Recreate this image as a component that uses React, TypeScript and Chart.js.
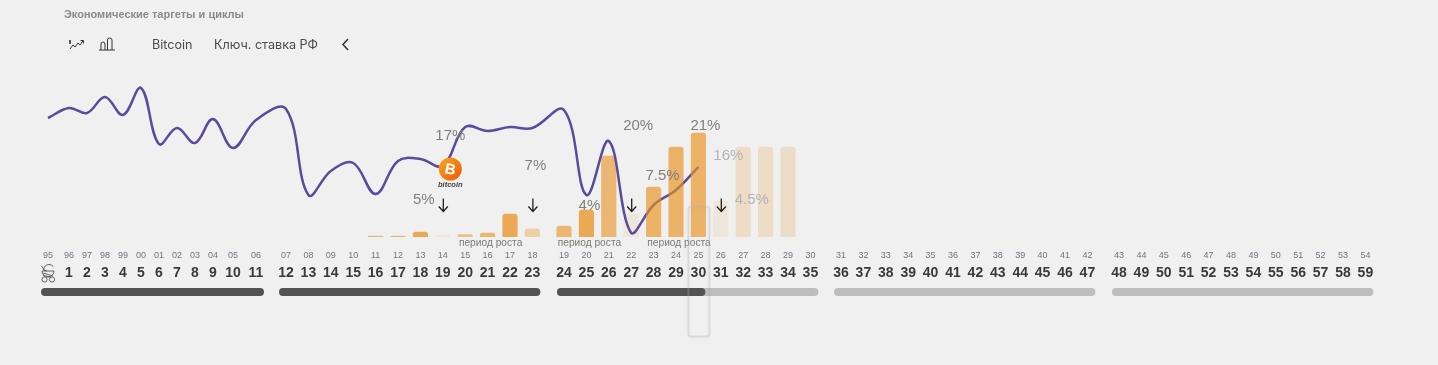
import React, { useEffect, useRef } from "react";
import { Chart, registerables } from "chart.js";

Chart.register(...registerables);

// ---------- data ----------
const yearLabels = ["95","96","97","98","99","00","01","02","03","04","05","06","07","08","09","10","11","12","13","14","15","16","17","18","19","20","21","22","23","24","25","26","27","28","29","30","31","32","33","34","35","36","37","38","39","40","41","42","43","44","45","46","47","48","49","50","51","52","53","54"];
const ageLabels = ["","1","2","3","4","5","6","7","8","9","10","11","12","13","14","15","16","17","18","19","20","21","22","23","24","25","26","27","28","29","30","31","32","33","34","35","36","37","38","39","40","41","42","43","44","45","46","47","48","49","50","51","52","53","54","55","56","57","58","59"];
// Bitcoin curve, one value per year from 95 to 25
const bitcoinLevels = [119,129,124,140,122,149,93,109,94,118,89,117,128,42,66,74,43,76,78,71,110,106,110,109,127,42,96,4,32,47,70];
// Key rate bars from year 11 to year 29
const barYears = ["11","12","13","14","15","16","17","18","19","20","21","22","23","24","25","26","27","28","29"];
const barLevels = [1,1,5,1.5,2.5,4,23,8,11,27,81,23,50,90,104,36,90,90,90];
const rateLabels = ["17%","5%","7%","4%","20%","7.5%","21%","16%","4.5%"];
const arrowYears = ["14","18","22","26"];
const periodYears = ["16","20","24"];
const periodLabel = "период роста";
const cycleNames = ["0-11","12-23","24-35","36-47","48-59"];
const currentYear = "25";

// ---------- layout and style ----------
const firstGroupSteps = [21,18,18,18,18,18,18,18,18,20,23];
const groupStarts = [48,286,564,841,1119];
const step = 22.4;
const slotPositions: number[] = [];
groupStarts.forEach((start, g) => {
  let pos = start;
  for (let i = 0; i < 12; i++) {
    slotPositions.push(pos);
    pos += g === 0 ? (firstGroupSteps[i] ?? 0) : step;
  }
});
const slotOf = (year: string) => yearLabels.indexOf(year);
const orange = (a: number) => `rgba(232,145,30,${a})`;
const barAlphas = [0.6,0.6,0.75,0.1,0.5,0.6,0.75,0.35,0.6,0.75,0.6,0.1,0.65,0.65,0.65,0.1,0.2,0.2,0.2];
const frontBars = ["23","24","25"];
const labelStyles = [
  { dx: 7.5, y: 136, c: "#808080" }, { dx: -19, y: 200, c: "#808080" }, { dx: 3, y: 166, c: "#808080" },
  { dx: 3, y: 206, c: "#808080" }, { dx: 7, y: 126, c: "#808080" }, { dx: 9, y: 176, c: "#808080" },
  { dx: 7, y: 126, c: "#808080" }, { dx: 7.5, y: 156, c: "#b4b4b4" }, { dx: 31, y: 200, c: "#b4b4b4" },
];
const labelSlots = ["14","14","18","20","22","23","25","26","26"];
const FONT = '"Liberation Sans", Arial, sans-serif';
const Y_TOP = 60, Y_BASE = 237;

function roundedPill(ctx: CanvasRenderingContext2D, x0: number, x1: number, y: number, h: number, color: string) {
  ctx.fillStyle = color;
  ctx.beginPath();
  ctx.roundRect(x0, y, x1 - x0, h, h / 2);
  ctx.fill();
}

const overlays = {
  id: "overlays",
  afterDraw(chart: any) {
    const { ctx, scales } = chart;
    const xs = scales.x;
    const px = (year: string) => xs.getPixelForValue(slotPositions[slotOf(year)]);
    ctx.save();

    // period captions
    ctx.font = `10.2px ${FONT}`;
    ctx.fillStyle = "#7a7a7a";
    ctx.textAlign = "center";
    ctx.textBaseline = "middle";
    periodYears.forEach((y) => ctx.fillText(periodLabel, px(y) + 3, 243));

    // rate labels
    ctx.font = `15px ${FONT}`;
    rateLabels.forEach((t, i) => {
      const s = labelStyles[i];
      ctx.fillStyle = s.c;
      ctx.fillText(t, px(labelSlots[i]) + s.dx, s.y);
    });

    // arrows
    ctx.strokeStyle = "#1f1f1f";
    ctx.lineWidth = 1.3;
    arrowYears.forEach((y) => {
      const x = px(y) + 0.5;
      ctx.beginPath();
      ctx.moveTo(x, 198.5);
      ctx.lineTo(x, 211);
      ctx.moveTo(x - 4.5, 206.5);
      ctx.lineTo(x, 211.5);
      ctx.lineTo(x + 4.5, 206.5);
      ctx.stroke();
    });

    // bitcoin badge
    const bx = px("14") + 7.5, by = 169;
    const grad = ctx.createLinearGradient(bx - 9, by - 9, bx + 9, by + 9);
    grad.addColorStop(0, "#f9a01c");
    grad.addColorStop(1, "#ee5f0c");
    ctx.fillStyle = grad;
    ctx.beginPath();
    ctx.arc(bx, by, 11.5, 0, Math.PI * 2);
    ctx.fill();
    ctx.save();
    ctx.translate(bx, by);
    ctx.rotate(0.2);
    ctx.fillStyle = "#fff";
    ctx.font = `bold 15px ${FONT}`;
    ctx.fillText("B", 0, 1);
    ctx.restore();
    ctx.fillStyle = "#444";
    ctx.font = `italic bold 7.5px ${FONT}`;
    ctx.fillText("bitcoin", bx, 184.5);

    // cycle pills
    cycleNames.forEach((_, g) => {
      const a = xs.getPixelForValue(slotPositions[g * 12]) - 7;
      const b = xs.getPixelForValue(slotPositions[g * 12 + 11]) + 8;
      const pastCycle = g < 2;
      roundedPill(ctx, a, b, 288, 8, pastCycle ? "#535353" : "#bdbdbd");
    });
    const curStart = xs.getPixelForValue(slotPositions[24]) - 7;
    roundedPill(ctx, curStart, px(currentYear) + 7, 288, 8, "#535353");

    // baby carriage at the birth slot
    const cx = xs.getPixelForValue(slotPositions[0]);
    ctx.strokeStyle = "#555";
    ctx.lineWidth = 0.9;
    ctx.beginPath();
    ctx.arc(cx - 3.5, 279.5, 2.6, 0, Math.PI * 2);
    ctx.moveTo(cx + 6.5, 279.5);
    ctx.arc(cx + 4, 279.5, 2.6, 0, Math.PI * 2);
    ctx.moveTo(cx - 6, 271);
    ctx.lineTo(cx + 6, 271);
    ctx.arc(cx, 271, 6, 0, Math.PI);
    ctx.moveTo(cx - 1, 271);
    ctx.arc(cx + 1, 270, 5.5, Math.PI, -Math.PI * 0.2);
    ctx.moveTo(cx - 6.5, 266);
    ctx.lineTo(cx - 3, 271);
    ctx.moveTo(cx - 5, 273);
    ctx.lineTo(cx + 5, 276);
    ctx.moveTo(cx - 5, 275.5);
    ctx.lineTo(cx + 3, 277);
    ctx.stroke();

    // current-year highlight
    const hx = px(currentYear);
    ctx.shadowColor = "rgba(0,0,0,0.10)";
    ctx.shadowBlur = 4;
    ctx.shadowOffsetY = 3;
    ctx.strokeStyle = "rgba(170,170,170,0.32)";
    ctx.lineWidth = 2;
    ctx.beginPath();
    ctx.roundRect(hx - 10, 206.5, 21, 130, 3);
    ctx.stroke();
    ctx.restore();
  },
};

const tickValues = (scale: any) => {
  scale.ticks = slotPositions.map((value) => ({ value }));
};
const fitAxis = (height: number) => (s: any) => {
  s.height = height;
  s.paddingLeft = 0;
  s.paddingRight = 0;
};
const baseAxis = {
  type: "linear" as const,
  min: 0,
  max: 1438,
  offset: false,
  grid: { display: false, drawTicks: false, offset: false },
  border: { display: false },
  afterBuildTicks: tickValues,
};
const indexOfX = (v: number) => slotPositions.indexOf(v);

export default function App() {
  const ref = useRef<HTMLCanvasElement>(null);
  useEffect(() => {
    document.body.style.margin = "0";
    document.body.style.background = "#f0f0f0";
    const barPoint = (y: string, i: number) => ({ x: slotPositions[slotOf(y)], y: barLevels[i] });
    const idx = barYears.map((_, i) => i);
    const backIdx = idx.filter((i) => !frontBars.includes(barYears[i]));
    const frontIdx = idx.filter((i) => frontBars.includes(barYears[i]));
    const barCommon = {
      type: "bar" as const,
      grouped: false,
      barThickness: 14.5,
      borderRadius: { topLeft: 3, topRight: 3, bottomLeft: 0, bottomRight: 0 },
      borderSkipped: false,
    };
    const chart = new Chart(ref.current!, {
      data: {
        datasets: [
          {
            ...barCommon,
            label: "Ключ. ставка РФ",
            order: 3,
            data: backIdx.map((i) => barPoint(barYears[i], i)),
            backgroundColor: backIdx.map((i) => orange(barAlphas[i])),
          },
          {
            type: "line" as const,
            label: "Bitcoin",
            order: 2,
            data: bitcoinLevels.map((y, i) => ({ x: slotPositions[i], y })),
            borderColor: "#5c4a9c",
            borderWidth: 2.5,
            pointRadius: 0,
            tension: 0.38,
            fill: false,
          },
          {
            ...barCommon,
            label: "Ключ. ставка РФ (период роста)",
            order: 1,
            data: frontIdx.map((i) => barPoint(barYears[i], i)),
            backgroundColor: frontIdx.map((i) => orange(barAlphas[i])),
          },
        ],
      } as any,
      options: {
        responsive: false,
        animation: false,
        layout: { padding: { top: Y_TOP, left: 0, right: 0, bottom: 365 - Y_BASE - 46 } },
        plugins: { legend: { display: false }, tooltip: { enabled: false } },
        scales: {
          y: { display: false, min: 0, max: Y_BASE - Y_TOP },
          x: {
            ...baseAxis,
            position: "bottom",
            afterFit: fitAxis(27),
            ticks: {
              autoSkip: false, maxRotation: 0, padding: 13, color: "#6f7682",
              font: { size: 9, family: FONT },
              callback: (v: any) => yearLabels[indexOfX(v)],
            },
          },
          x2: {
            ...baseAxis,
            position: "bottom",
            afterFit: fitAxis(19),
            ticks: {
              autoSkip: false, maxRotation: 0, padding: 1, color: "#3a3a3a",
              font: { size: 14, weight: "bold", family: FONT },
              callback: (v: any) => ageLabels[indexOfX(v)],
            },
          },
        },
      } as any,
      plugins: [overlays],
    });
    return () => chart.destroy();
  }, []);

  const tab: React.CSSProperties = { position: "absolute", top: 36.5, font: '12.6px Inter, sans-serif', color: "#4a4a4a", whiteSpace: "nowrap" };
  return (
    <div style={{ position: "absolute", left: 0, top: 0, width: 1438, height: 365, background: "#f0f0f0", overflow: "hidden" }}>
      <canvas ref={ref} width={1438} height={365} style={{ display: "block", position: "absolute", left: 0, top: 0 }} />
      <div style={{ position: "absolute", left: 64, top: 8, font: `bold 11px ${FONT}`, color: "#8a8a8a", whiteSpace: "nowrap" }}>
        Экономические таргеты и циклы
      </div>
      <svg style={{ position: "absolute", left: 68, top: 36 }} width={50} height={16} fill="none" stroke="#333" strokeWidth={1}>
        <path d="M2 13 L5 9 L7 11 L10 7 L12 9 L15 5" />
        <path d="M12.5 4.5 H15.5 V7.5" />
        <path d="M2 4 V8" strokeWidth={1.6} />
        <path d="M31 14 H47 M33 14 V8 Q33 6 35 6 Q37 6 37 8 V14 M39.5 14 V4 Q39.5 2 41.5 2 Q44 2 44 4 V14" />
      </svg>
      <span style={{ ...tab, left: 152 }}>Bitcoin</span>
      <span style={{ ...tab, left: 214 }}>Ключ. ставка РФ</span>
      <svg style={{ position: "absolute", left: 340, top: 38 }} width={10} height={13} fill="none" stroke="#333" strokeWidth={1.5}>
        <path d="M8 1 L3 6.5 L8 12" />
      </svg>
    </div>
  );
}
